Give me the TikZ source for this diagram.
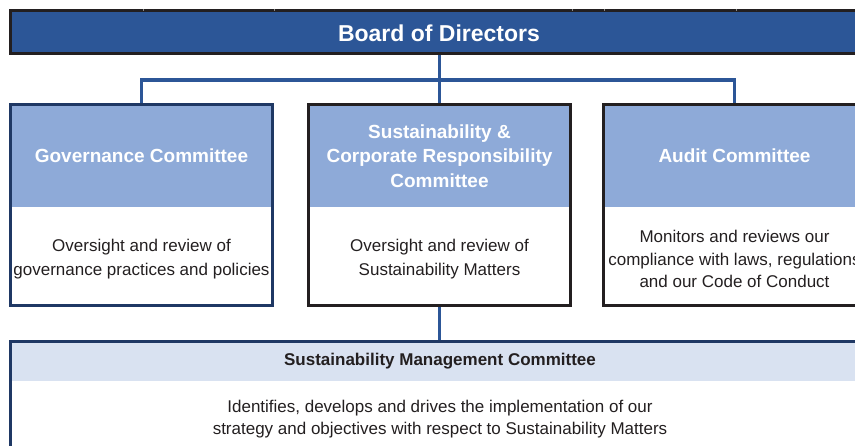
\documentclass[tikz,border=0pt]{standalone}
\usepackage{fontspec}
\setmainfont{Liberation Sans}
\definecolor{boardblue}{HTML}{2C5697}
\definecolor{headblue}{HTML}{8EAAD8}
\definecolor{paleblue}{HTML}{D9E2F1}
\definecolor{navy}{HTML}{1F3864}
\definecolor{ink}{HTML}{231F20}
\definecolor{tickgray}{HTML}{8A8A8A}
\begin{document}
\begin{tikzpicture}[x=1pt,y=-1pt,
  frame/.style={draw=#1, line width=3pt, minimum width=262pt, minimum height=201pt, inner sep=0pt},
  headband/.style={fill=headblue, minimum width=262pt, minimum height=102.5pt, inner sep=0pt,
    anchor=north, text=white, font=\fontsize{19}{24.5}\selectfont\bfseries, align=center},
  bodytext/.style={text=ink, font=\fontsize{17}{23.5}\selectfont, align=center},
  link/.style={draw=boardblue, line width=3.5pt, line join=miter},
]
\useasboundingbox (0,0) rectangle (855,446);
\clip (0,0) rectangle (855,446);

% Board of Directors banner
\node[draw=ink, fill=boardblue, line width=3pt, minimum width=859pt, minimum height=43pt, inner sep=0pt] (board) at (440,32) {};
\node[text=white, font=\fontsize{23}{27}\selectfont\bfseries] (boardlabel) at (439,33) {Board of Directors};
\foreach \tx in {143,274,572,604,736}
  \draw[tickgray, line width=1pt] (\tx,9.5) -- (\tx,11.5);

% Committee header bands
\node[headband] (govhead) at (141.5,104.5) {Governance Committee};
\node[headband] (schead) at (439.5,104.5) {Sustainability \&\\Corporate Responsibility\\Committee};
\node[headband] (audithead) at (734.5,104.5) {Audit Committee};

% Committee frames
\node[frame=navy] (gov) at (141.5,205) {};
\node[frame=ink] (sc) at (439.5,205) {};
\node[frame=ink] (audit) at (734.5,205) {};

% Committee descriptions
\node[bodytext] (govtext) at (141.5,259) {Oversight and review of\\governance practices and policies};
\node[bodytext] (sctext) at (439.5,259) {Oversight and review of\\Sustainability Matters};
\node[bodytext, font=\fontsize{17}{22.5}\selectfont] (audittext) at (734.5,259) {Monitors and reviews our\\compliance with laws, regulations\\and our Code of Conduct};

% Management committee
\node[fill=paleblue, minimum width=859pt, minimum height=39.5pt, inner sep=0pt, anchor=north,
  text=ink, font=\fontsize{17}{20}\selectfont\bfseries] (mgmthead) at (440,341.5) {Sustainability Management Committee};
\node[draw=navy, line width=3pt, minimum width=859pt, minimum height=160pt, inner sep=0pt] (mgmt) at (440,421.5) {};
\node[bodytext, font=\fontsize{17}{22}\selectfont] (mgmttext) at (440,419.5) {Identifies, develops and drives the implementation of our\\strategy and objectives with respect to Sustainability Matters};

% Reporting lines
\coordinate (split) at (439.5,80);
\draw[link] (board.south -| split) -- (split);
\draw[link] (gov.north) |- (split) -| (audit.north);
\draw[link] (split) -- (sc.north);
\draw[link] (sc.south) -- (sc.south |- mgmt.north);
\end{tikzpicture}
\end{document}
